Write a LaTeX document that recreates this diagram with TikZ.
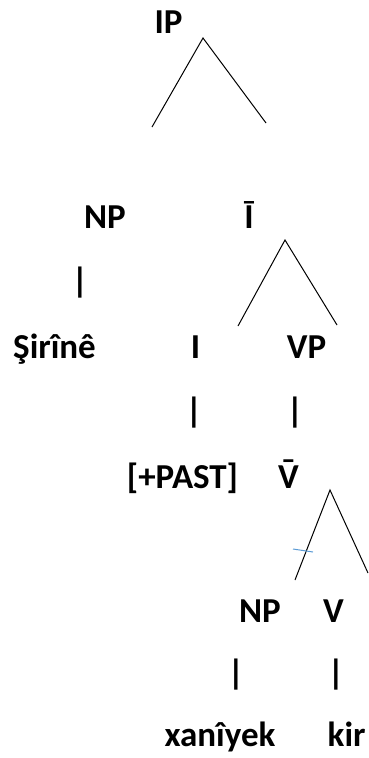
\documentclass[tikz,border=0pt]{standalone}
\usepackage{fontspec}
\setmainfont{Carlito}
% V with a macron, built from the spacing macron that Carlito has
\newcommand{\Vmacron}{\accent"00AF V}
\begin{document}
\begin{tikzpicture}[x=1pt,y=-1pt,
  lbl/.style={inner sep=0pt,font=\fontsize{35}{40}\selectfont\bfseries,anchor=base},
  stem/.style={inner sep=0pt,font=\fontsize{35}{40}\selectfont\bfseries,anchor=center},
  branch/.style={draw=black,line width=1pt},
  tick/.style={draw={rgb,255:red,91;green,155;blue,213},line width=1pt}]
\useasboundingbox (0,0) rectangle (369,758);

% category labels
\node[lbl] (ip)    at (168.5,33) {IP};
\node[lbl] (np1)   at (105,228) {NP};
\node[lbl] (ibar)  at (249,228) {Ī};
\node[lbl] (sirin) at (54.5,358) {Şirînê};
\node[lbl] (infl)  at (195.5,358) {I};
\node[lbl] (vp)    at (306.5,358) {VP};
\node[lbl] (past)  at (182.5,488) {[+PAST]};
\node[lbl] (vbar)  at (288.5,488) {\Vmacron};
\node[lbl] (np2)   at (260,622) {NP};
\node[lbl] (verb)  at (333.5,622) {V};
\node[lbl] (xani)  at (220,746) {xanîyek};
\node[lbl,anchor=base west] (kir) at (327.5,746) {kir};

% unary branches typed as bars
\node[stem] (s1) at (80,283) {|};
\node[stem] (s2) at (194,413) {|};
\node[stem] (s3) at (295,413) {|};
\node[stem] (s4) at (236,675) {|};
\node[stem] (s5) at (336,675) {|};

% binary branches
\coordinate (t1) at (203,38);
\coordinate (t1l) at (152,127);
\coordinate (t1r) at (266,123);
\coordinate (t2) at (285,240);
\coordinate (t2l) at (238,326);
\coordinate (t2r) at (337,325);
\coordinate (t3) at (330,490);
\coordinate (t3l) at (295,580);
\coordinate (t3r) at (368,573);
\draw[branch] (t1l) -- (t1) -- (t1r);
\draw[branch] (t2l) -- (t2) -- (t2r);
\draw[branch] (t3l) -- (t3) -- (t3r);

% small stray tick
\coordinate (m1) at (293,549);
\coordinate (m2) at (313,552);
\draw[tick] (m1) -- (m2);
\end{tikzpicture}
\end{document}
